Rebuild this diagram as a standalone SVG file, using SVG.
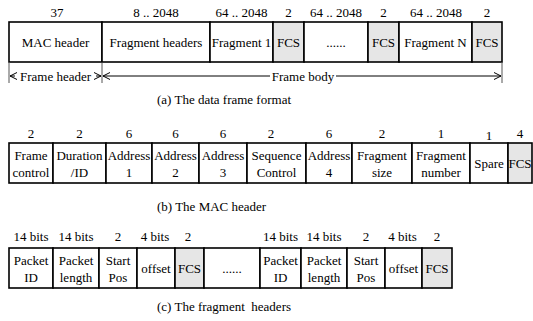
<svg xmlns="http://www.w3.org/2000/svg" width="533" height="321" viewBox="0 0 533 321">
<style>
text{font-family:"Liberation Serif","Times New Roman",serif;font-size:13px;fill:#000;text-anchor:middle}
.cap{text-anchor:start}
.b{fill:#fff;stroke:#000;stroke-width:1.6}
.g{fill:#e6e6e6;stroke:#000;stroke-width:1.6}
.ln{stroke:#000;stroke-width:1;fill:none}
.tk{stroke:#555;stroke-width:1;fill:none}
</style>
<defs>
<marker id="ah" viewBox="0 0 8 8" refX="7.5" refY="4" markerWidth="8" markerHeight="8" markerUnits="userSpaceOnUse" orient="auto-start-reverse">
<path d="M0.5 0.5 L7.5 4 L0.5 7.5" fill="none" stroke="#000" stroke-width="1"/>
</marker>
</defs>
<rect width="533" height="321" fill="#fff"/>

<!-- (a) The data frame format -->
<g id="a-labels">
<text x="57" y="17">37</text>
<text x="156" y="17">8 .. 2048</text>
<text x="241.5" y="17">64 .. 2048</text>
<text x="288.5" y="17">2</text>
<text x="336" y="17">64 .. 2048</text>
<text x="383.5" y="17">2</text>
<text x="436" y="17">64 .. 2048</text>
<text x="487" y="17">2</text>
</g>
<g id="a-mac"><rect class="b" x="9" y="22" width="93" height="40"/><text x="55.5" y="46.5">MAC header</text></g>
<g id="a-fraghdr"><rect class="b" x="102" y="22" width="108" height="40"/><text x="156" y="46.5">Fragment headers</text></g>
<g id="a-frag1"><rect class="b" x="210" y="22" width="63" height="40"/><text x="241.5" y="46.5">Fragment 1</text></g>
<g id="a-fcs1"><rect class="g" x="273" y="22" width="31" height="40"/><text x="288.5" y="46.5">FCS</text></g>
<g id="a-dots"><rect class="b" x="304" y="22" width="64" height="40"/><text x="336" y="46.5">......</text></g>
<g id="a-fcs2"><rect class="g" x="368" y="22" width="31" height="40"/><text x="383.5" y="46.5">FCS</text></g>
<g id="a-fragN"><rect class="b" x="399" y="22" width="73" height="40"/><text x="435.5" y="46.5">Fragment N</text></g>
<g id="a-fcs3"><rect class="g" x="472" y="22" width="30" height="40"/><text x="487" y="46.5">FCS</text></g>

<g id="connectors">
<path class="tk" d="M9 62 V83 M102 62 V83 M502 62 V83"/>
<path class="ln" d="M15 76 H10" marker-end="url(#ah)"/>
<path class="ln" d="M96 76 H101" marker-end="url(#ah)"/>
<path class="ln" d="M270 76 H103" marker-end="url(#ah)"/>
<path class="ln" d="M336 76 H501" marker-end="url(#ah)"/>
</g>
<g id="a-arrowlabels">
<text x="55.5" y="80.5">Frame header</text>
<text x="303" y="80.5">Frame body</text>
</g>
<text class="cap" x="157" y="104">(a) The data frame format</text>

<!-- (b) The MAC header -->
<g id="b-labels">
<text x="31" y="138">2</text>
<text x="79.5" y="138">2</text>
<text x="129" y="138">6</text>
<text x="175.5" y="138">6</text>
<text x="223" y="138">6</text>
<text x="271" y="138">2</text>
<text x="329" y="138">6</text>
<text x="382" y="138">2</text>
<text x="441" y="138">1</text>
<text x="489" y="140">1</text>
<text x="520" y="138">4</text>
</g>
<g id="b-fc"><rect class="b" x="9" y="143" width="44" height="40"/><text x="31" y="160">Frame</text><text x="31" y="177">control</text></g>
<g id="b-dur"><rect class="b" x="53" y="143" width="53" height="40"/><text x="79.5" y="160">Duration</text><text x="79.5" y="177">/ID</text></g>
<g id="b-a1"><rect class="b" x="106" y="143" width="46" height="40"/><text x="129" y="160">Address</text><text x="129" y="177">1</text></g>
<g id="b-a2"><rect class="b" x="152" y="143" width="47" height="40"/><text x="175.5" y="160">Address</text><text x="175.5" y="177">2</text></g>
<g id="b-a3"><rect class="b" x="199" y="143" width="48" height="40"/><text x="223" y="160">Address</text><text x="223" y="177">3</text></g>
<g id="b-seq"><rect class="b" x="247" y="143" width="59" height="40"/><text x="276.5" y="160">Sequence</text><text x="276.5" y="177">Control</text></g>
<g id="b-a4"><rect class="b" x="306" y="143" width="46" height="40"/><text x="329" y="160">Address</text><text x="329" y="177">4</text></g>
<g id="b-fsize"><rect class="b" x="352" y="143" width="60" height="40"/><text x="382" y="160">Fragment</text><text x="382" y="177">size</text></g>
<g id="b-fnum"><rect class="b" x="412" y="143" width="58" height="40"/><text x="441" y="160">Fragment</text><text x="441" y="177">number</text></g>
<g id="b-spare"><rect class="b" x="470" y="143" width="38" height="40"/><text x="489" y="167.5">Spare</text></g>
<g id="b-fcs"><rect class="g" x="508" y="143" width="24" height="40"/><text x="520" y="167.5">FCS</text></g>
<text class="cap" x="157" y="211">(b) The MAC header</text>

<!-- (c) The fragment headers -->
<g id="c-labels">
<text x="31" y="241">14 bits</text>
<text x="76" y="241">14 bits</text>
<text x="118" y="241">2</text>
<text x="155" y="241">4 bits</text>
<text x="188" y="241">2</text>
<text x="280.5" y="241">14 bits</text>
<text x="324" y="241">14 bits</text>
<text x="366" y="241">2</text>
<text x="402.5" y="241">4 bits</text>
<text x="437" y="241">2</text>
</g>
<g id="c-pid1"><rect class="b" x="9" y="248" width="44" height="40"/><text x="31" y="265">Packet</text><text x="31" y="282">ID</text></g>
<g id="c-plen1"><rect class="b" x="53" y="248" width="46" height="40"/><text x="76" y="265">Packet</text><text x="76" y="282">length</text></g>
<g id="c-start1"><rect class="b" x="99" y="248" width="38" height="40"/><text x="118" y="265">Start</text><text x="118" y="282">Pos</text></g>
<g id="c-off1"><rect class="b" x="137" y="248" width="38" height="40"/><text x="156" y="272.5">offset</text></g>
<g id="c-fcs1"><rect class="g" x="175" y="248" width="29" height="40"/><text x="189.5" y="272.5">FCS</text></g>
<g id="c-dots"><rect class="b" x="204" y="248" width="56" height="40"/><text x="232" y="272.5">......</text></g>
<g id="c-pid2"><rect class="b" x="260" y="248" width="41" height="40"/><text x="280.5" y="265">Packet</text><text x="280.5" y="282">ID</text></g>
<g id="c-plen2"><rect class="b" x="301" y="248" width="46" height="40"/><text x="324" y="265">Packet</text><text x="324" y="282">length</text></g>
<g id="c-start2"><rect class="b" x="347" y="248" width="38" height="40"/><text x="366" y="265">Start</text><text x="366" y="282">Pos</text></g>
<g id="c-off2"><rect class="b" x="385" y="248" width="37" height="40"/><text x="403.5" y="272.5">offset</text></g>
<g id="c-fcs2"><rect class="g" x="422" y="248" width="30" height="40"/><text x="437" y="272.5">FCS</text></g>
<text class="cap" x="157" y="311" xml:space="preserve">(c) The fragment  headers</text>
</svg>
